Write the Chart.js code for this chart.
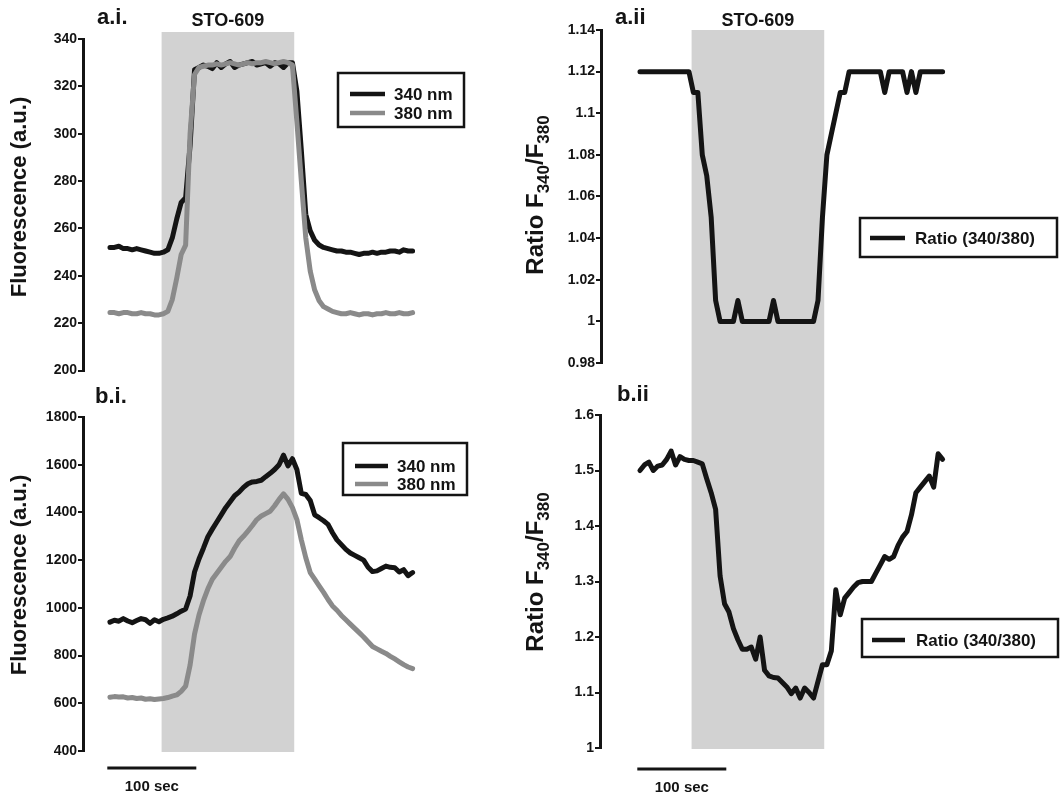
<!DOCTYPE html>
<html>
<head>
<meta charset="utf-8">
<title>STO-609 Fura-2 traces</title>
<script src="https://cdn.jsdelivr.net/npm/chart.js@4.4.0/dist/chart.umd.min.js"></script>
<style>
  html, body { margin: 0; padding: 0; background: #fff; }
  #fig { position: relative; width: 1062px; height: 798px; overflow: hidden; }
  #fig canvas { position: absolute; }
</style>
</head>
<body>
<div id="fig">
  <canvas id="ai"  width="515" height="380" style="left:0;top:0"></canvas>
  <canvas id="bi"  width="515" height="418" style="left:0;top:380px"></canvas>
  <canvas id="aii" width="547" height="380" style="left:515px;top:0"></canvas>
  <canvas id="bii" width="547" height="418" style="left:515px;top:380px"></canvas>
</div>
<script>
// time (sec) of each sample, shared by all four traces
const TIME = [
  0, 5, 10, 15, 20, 25, 30, 35, 40, 45,
  50, 55, 60, 65, 70, 75, 80, 85, 90, 95,
  100, 105, 110, 115, 120, 125, 130, 135, 140, 145,
  150, 155, 160, 165, 170, 175, 180, 185, 190, 195,
  200, 205, 210, 215, 220, 225, 230, 235, 240, 245,
  250, 255, 260, 265, 270, 275, 280, 285, 290, 295,
  300, 305, 310, 315, 320, 325, 330, 335, 340
];
const STO_609 = [58, 207];          // drug application (sec)
const SCALE_BAR_SEC = [-3, 97];     // 100 sec bar
const DRUG_LABEL = 'STO-609';

// a.i  fluorescence
const A_F340 = [
  252, 252, 252.5, 251.5, 251.5, 251, 251.5, 251, 250.5, 250,
  249.5, 249.5, 250, 251, 256, 264, 271, 273, 295, 327,
  328, 329, 328.5, 327.5, 330, 328, 329.5, 330.5, 328, 329,
  329.5, 330, 330.5, 329, 329.5, 330, 328.5, 330, 329.5, 328,
  330, 330, 318, 293, 266, 259, 255, 253, 252, 251.5,
  251, 250.5, 250.5, 250, 250, 249.5, 249, 249.5, 249.5, 250,
  249.5, 250, 250, 250.5, 250.5, 250, 251, 250.5, 250.5
];
const A_F380 = [
  224.5, 224.5, 224, 224.5, 224.5, 224, 224, 224.5, 224, 224,
  223.5, 223.5, 224, 225, 230, 239, 249, 253, 300, 325,
  328, 328.5, 329, 329, 329.5, 329, 329.5, 330, 329.5, 329,
  329.5, 330, 329.5, 330, 330, 330.5, 330, 329.5, 330, 330.5,
  330, 329, 305, 280, 256, 242, 234, 229.5, 227, 226,
  225, 224.5, 224, 224, 224.5, 224, 223.5, 224, 224, 223.5,
  224, 224, 224.5, 224, 224, 224.5, 224, 224, 224.5
];
// a.ii ratio
const A_RATIO = [
  1.12, 1.12, 1.12, 1.12, 1.12, 1.12, 1.12, 1.12, 1.12, 1.12,
  1.12, 1.12, 1.11, 1.11, 1.08, 1.07, 1.05, 1.01, 1.00, 1.00,
  1.00, 1.00, 1.01, 1.00, 1.00, 1.00, 1.00, 1.00, 1.00, 1.00,
  1.01, 1.00, 1.00, 1.00, 1.00, 1.00, 1.00, 1.00, 1.00, 1.00,
  1.01, 1.05, 1.08, 1.09, 1.10, 1.11, 1.11, 1.12, 1.12, 1.12,
  1.12, 1.12, 1.12, 1.12, 1.12, 1.11, 1.12, 1.12, 1.12, 1.12,
  1.11, 1.12, 1.11, 1.12, 1.12, 1.12, 1.12, 1.12, 1.12
];
// b.i  fluorescence
const B_F340 = [
  940, 948, 944, 955, 945, 938, 947, 955, 950, 935,
  950, 942, 952, 958, 965, 975, 986, 995, 1050, 1150,
  1205, 1250, 1298, 1330, 1360, 1390, 1420, 1445, 1470, 1485,
  1505, 1520, 1528, 1530, 1535, 1550, 1564, 1580, 1600, 1640,
  1595, 1625, 1580, 1480, 1475, 1450, 1390, 1378, 1365, 1350,
  1315, 1285, 1265, 1245, 1230, 1220, 1210, 1200, 1170, 1152,
  1155, 1165, 1175, 1170, 1168, 1150, 1160, 1135, 1148
];
const B_F380 = [
  625, 628, 626, 627, 622, 624, 620, 622, 617, 619,
  616, 618, 620, 624, 630, 635, 650, 672, 760, 890,
  970, 1030, 1080, 1120, 1145, 1170, 1195, 1215, 1250, 1280,
  1300, 1322, 1345, 1370, 1385, 1395, 1405, 1428, 1455, 1478,
  1455, 1420, 1370, 1285, 1210, 1148, 1120, 1092, 1065, 1035,
  1008, 990, 968, 950, 932, 914, 896, 878, 858, 838,
  828, 818, 809, 797, 786, 774, 762, 752, 745
];
// b.ii ratio
const B_RATIO = [
  1.50, 1.51, 1.515, 1.50, 1.508, 1.51, 1.52, 1.535, 1.51, 1.525,
  1.52, 1.518, 1.518, 1.515, 1.512, 1.485, 1.46, 1.43, 1.31, 1.26,
  1.245, 1.215, 1.195, 1.178, 1.178, 1.182, 1.16, 1.20, 1.14, 1.13,
  1.127, 1.126, 1.118, 1.11, 1.098, 1.108, 1.09, 1.108, 1.10, 1.09,
  1.12, 1.15, 1.15, 1.175, 1.285, 1.24, 1.27, 1.28, 1.29, 1.298,
  1.30, 1.30, 1.30, 1.315, 1.33, 1.345, 1.34, 1.345, 1.365, 1.38,
  1.39, 1.42, 1.46, 1.47, 1.48, 1.49, 1.47, 1.53, 1.52
];

// y tick labels
const A_I_TICKS  = [200, 220, 240, 260, 280, 300, 320, 340];
const B_I_TICKS  = [400, 600, 800, 1000, 1200, 1400, 1600, 1800];
const A_II_TICKS = [0.98, 1.00, 1.02, 1.04, 1.06, 1.08, 1.10, 1.12, 1.14];
const B_II_TICKS = [1.0, 1.1, 1.2, 1.3, 1.4, 1.5, 1.6];

const FONT = '"Liberation Sans", Arial, Helvetica, sans-serif';
const INK = '#141414';
const GREY = '#8a8a8a';
const SHADE = '#d2d2d2';

const FLUO_TITLE = { size: 22, sub: 16, parts: [{ t: 'Fluorescence (a.u.)' }] };
const RATIO_TITLE = { size: 24, sub: 17, parts: [{ t: 'Ratio F' }, { t: '340', sub: true }, { t: '/F' }, { t: '380', sub: true }] };

// shading, panel letters, y titles, boxed legend, scale bar
const panelDecor = {
  id: 'panelDecor',
  beforeDatasetsDraw(chart, args, o) {
    const { ctx, chartArea, scales: { x } } = chart;
    const x1 = x.getPixelForValue(STO_609[0]);
    const x2 = x.getPixelForValue(STO_609[1]);
    const top = o.shadeTop != null ? o.shadeTop : 0;
    const bottom = o.shadeBottom != null ? o.shadeBottom : chartArea.bottom + 1;
    ctx.save();
    ctx.fillStyle = SHADE;
    ctx.fillRect(x1, top, x2 - x1, bottom - top);
    ctx.restore();
  },
  afterDraw(chart, args, o) {
    const { ctx, scales: { x } } = chart;
    ctx.save();
    ctx.fillStyle = INK;
    ctx.textBaseline = 'alphabetic';

    ctx.font = `bold 22px ${FONT}`;
    ctx.textAlign = 'left';
    ctx.fillText(o.label, o.labelX, o.labelY);

    if (o.drugY) {
      const cx = (x.getPixelForValue(STO_609[0]) + x.getPixelForValue(STO_609[1])) / 2;
      ctx.font = `bold 18px ${FONT}`;
      ctx.textAlign = 'center';
      ctx.fillText(DRUG_LABEL, cx, o.drugY);
    }

    // rotated y title, subscripts shift toward the axis
    ctx.save();
    ctx.translate(o.titleX, o.titleY);
    ctx.rotate(-Math.PI / 2);
    ctx.textAlign = 'left';
    ctx.textBaseline = 'middle';
    const mainF = `bold ${o.title.size}px ${FONT}`, subF = `bold ${o.title.sub}px ${FONT}`;
    let total = 0;
    o.title.parts.forEach(p => { ctx.font = p.sub ? subF : mainF; total += ctx.measureText(p.t).width; });
    let cur = -total / 2;
    o.title.parts.forEach(p => {
      ctx.font = p.sub ? subF : mainF;
      ctx.fillText(p.t, cur, p.sub ? 8 : 0);
      cur += ctx.measureText(p.t).width;
    });
    ctx.restore();

    // legend box
    const L = o.legend;
    ctx.lineWidth = 2.5;
    ctx.strokeStyle = INK;
    ctx.strokeRect(L.x, L.y, L.w, L.h);
    ctx.font = `bold 17px ${FONT}`;
    ctx.textAlign = 'left';
    ctx.textBaseline = 'middle';
    chart.data.datasets.forEach((ds, i) => {
      const yy = L.y + L.first + i * L.row;
      ctx.strokeStyle = ds.borderColor;
      ctx.lineWidth = 4.5;
      ctx.beginPath();
      ctx.moveTo(L.x + L.line[0], yy);
      ctx.lineTo(L.x + L.line[1], yy);
      ctx.stroke();
      ctx.fillStyle = INK;
      ctx.fillText(ds.label, L.x + L.text, yy + 1);
    });

    // time scale bar
    if (o.barY) {
      const b1 = x.getPixelForValue(SCALE_BAR_SEC[0]);
      const b2 = x.getPixelForValue(SCALE_BAR_SEC[1]);
      ctx.strokeStyle = INK;
      ctx.lineWidth = 3;
      ctx.beginPath();
      ctx.moveTo(b1, o.barY);
      ctx.lineTo(b2, o.barY);
      ctx.stroke();
      ctx.font = `bold 15px ${FONT}`;
      ctx.textAlign = 'center';
      ctx.textBaseline = 'alphabetic';
      ctx.fillText(`${SCALE_BAR_SEC[1] - SCALE_BAR_SEC[0]} sec`, (b1 + b2) / 2, o.barY + 23);
    }
    ctx.restore();
  }
};

function makePanel(id, cfg) {
  const datasets = cfg.series.map(s => ({
    label: s.label,
    data: TIME.map((t, i) => ({ x: t, y: s.values[i] })),
    borderColor: s.color,
    borderWidth: 5,
    borderJoinStyle: 'round',
    borderCapStyle: 'round',
    pointRadius: 0,
    tension: 0,
    order: s.order
  }));
  const ticks = cfg.yTicks;
  return new Chart(document.getElementById(id), {
    type: 'line',
    data: { datasets },
    options: {
      responsive: false,
      animation: false,
      events: [],
      layout: { padding: cfg.padding },
      plugins: { legend: { display: false }, tooltip: { enabled: false }, panelDecor: cfg.decor },
      scales: {
        x: { type: 'linear', display: false, min: cfg.xRange[0], max: cfg.xRange[1] },
        y: {
          min: ticks[0],
          max: ticks[ticks.length - 1],
          afterFit: s => { s.width = cfg.axisW; },
          afterBuildTicks: s => { s.ticks = ticks.map(v => ({ value: v })); },
          ticks: {
            font: { family: FONT, size: 14, weight: 'bold' },
            color: INK,
            padding: 1,
            callback: v => String(+Number(v).toFixed(2))
          },
          grid: { drawOnChartArea: false, color: INK, lineWidth: 2, tickLength: 5 },
          border: { color: INK, width: 3 }
        }
      }
    },
    plugins: [panelDecor]
  });
}

makePanel('ai', {
  series: [
    { label: '340 nm', values: A_F340, color: INK, order: 2 },
    { label: '380 nm', values: A_F380, color: GREY, order: 1 }
  ],
  yTicks: A_I_TICKS, axisW: 83, xRange: [-30.3, 438.2],
  padding: { left: 0, right: 15, top: 39, bottom: 8 },
  decor: {
    label: 'a.i.', labelX: 97, labelY: 24, drugY: 26,
    title: FLUO_TITLE, titleX: 20, titleY: 197,
    shadeTop: 32, shadeBottom: 380,
    legend: { x: 338, y: 73, w: 126, h: 54, first: 21, row: 19, line: [12, 47], text: 56 }
  }
});

makePanel('bi', {
  series: [
    { label: '340 nm', values: B_F340, color: INK, order: 1 },
    { label: '380 nm', values: B_F380, color: GREY, order: 2 }
  ],
  yTicks: B_I_TICKS, axisW: 83, xRange: [-30.3, 438.2],
  padding: { left: 0, right: 15, top: 37, bottom: 47 },
  decor: {
    label: 'b.i.', labelX: 95, labelY: 23,
    title: FLUO_TITLE, titleX: 20, titleY: 195,
    shadeTop: 0,
    legend: { x: 343, y: 63, w: 124, h: 52, first: 23, row: 18, line: [12, 45], text: 54 },
    barY: 388
  }
});

makePanel('aii', {
  series: [{ label: 'Ratio (340/380)', values: A_RATIO, color: INK, order: 1 }],
  yTicks: A_II_TICKS, axisW: 86, xRange: [-43.8, 471.9],
  padding: { left: 0, right: 2, top: 30, bottom: 17 },
  decor: {
    label: 'a.ii', labelX: 100, labelY: 24, drugY: 26,
    title: RATIO_TITLE, titleX: 21, titleY: 195,
    shadeTop: 30, shadeBottom: 380,
    legend: { x: 345, y: 218, w: 197, h: 39, first: 20, row: 0, line: [10, 45], text: 55 }
  }
});

makePanel('bii', {
  series: [{ label: 'Ratio (340/380)', values: B_RATIO, color: INK, order: 1 }],
  yTicks: B_II_TICKS, axisW: 85, xRange: [-44.9, 471.9],
  padding: { left: 0, right: 2, top: 35, bottom: 50 },
  decor: {
    label: 'b.ii', labelX: 102, labelY: 21,
    title: RATIO_TITLE, titleX: 21, titleY: 192,
    shadeTop: 0,
    legend: { x: 347, y: 239, w: 196, h: 38, first: 21, row: 0, line: [10, 43], text: 54 },
    barY: 389
  }
});
</script>
</body>
</html>
